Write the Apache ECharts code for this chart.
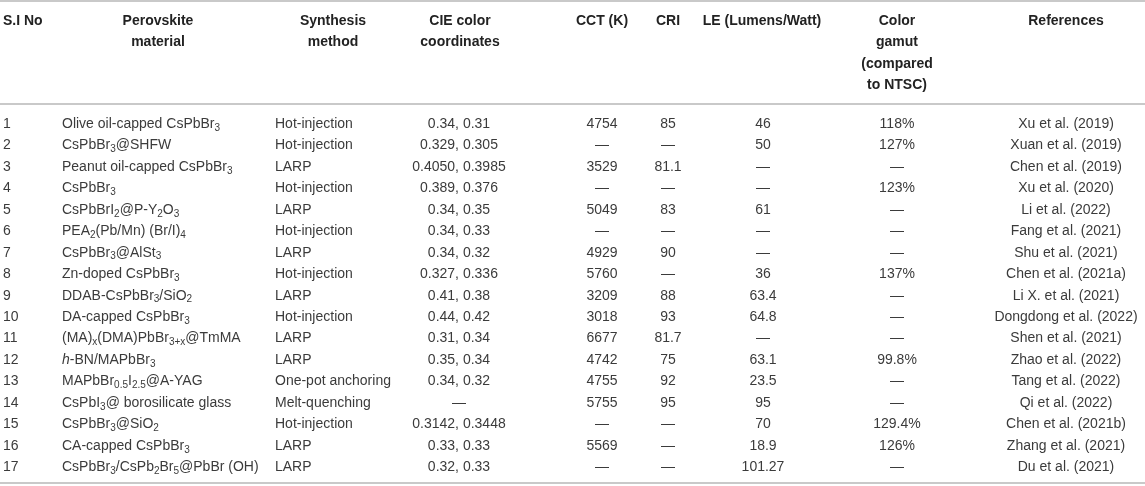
<!DOCTYPE html>
<html style="height: 100%">
<head>
  <meta charset="UTF-8">
  <title>Perovskite WLED table</title>
  <script src="https://cdn.jsdelivr.net/npm/echarts@6/dist/echarts.min.js"></script>
</head>
<body style="height: 100%; margin: 0; background: #fff">
<div id="main" style="width: 100%; height: 100%"></div>

<script>
  // Table content. "_{..}" marks a subscript, "*..*" marks italic.
  const headers = ['S.I No', 'Perovskite\nmaterial', 'Synthesis\nmethod', 'CIE color\ncoordinates',
    'CCT (K)', 'CRI', 'LE (Lumens/Watt)', 'Color\ngamut\n(compared\nto NTSC)', 'References'];

  const serialNos = ['1', '2', '3', '4', '5', '6', '7', '8', '9', '10', '11', '12', '13', '14', '15', '16', '17'];

  const materials = [
    'Olive oil-capped CsPbBr_{3}',
    'CsPbBr_{3}@SHFW',
    'Peanut oil-capped CsPbBr_{3}',
    'CsPbBr_{3}',
    'CsPbBrI_{2}@P-Y_{2}O_{3}',
    'PEA_{2}(Pb/Mn) (Br/I)_{4}',
    'CsPbBr_{3}@AlSt_{3}',
    'Zn-doped CsPbBr_{3}',
    'DDAB-CsPbBr_{3}/SiO_{2}',
    'DA-capped CsPbBr_{3}',
    '(MA)_{x}(DMA)PbBr_{3+x}@TmMA',
    '*h*-BN/MAPbBr_{3}',
    'MAPbBr_{0.5}I_{2.5}@A-YAG',
    'CsPbI_{3}@ borosilicate glass',
    'CsPbBr_{3}@SiO_{2}',
    'CA-capped CsPbBr_{3}',
    'CsPbBr_{3}/CsPb_{2}Br_{5}@PbBr (OH)'
  ];

  const methods = ['Hot-injection', 'Hot-injection', 'LARP', 'Hot-injection', 'LARP', 'Hot-injection', 'LARP',
    'Hot-injection', 'LARP', 'Hot-injection', 'LARP', 'LARP', 'One-pot anchoring', 'Melt-quenching',
    'Hot-injection', 'LARP', 'LARP'];

  const cieCoords = ['0.34, 0.31', '0.329, 0.305', '0.4050, 0.3985', '0.389, 0.376', '0.34, 0.35', '0.34, 0.33',
    '0.34, 0.32', '0.327, 0.336', '0.41, 0.38', '0.44, 0.42', '0.31, 0.34', '0.35, 0.34', '0.34, 0.32', '—',
    '0.3142, 0.3448', '0.33, 0.33', '0.32, 0.33'];

  const cct = ['4754', '—', '3529', '—', '5049', '—', '4929', '5760', '3209', '3018', '6677', '4742', '4755', '5755',
    '—', '5569', '—'];

  const cri = ['85', '—', '81.1', '—', '83', '—', '90', '—', '88', '93', '81.7', '75', '92', '95', '—', '—', '—'];

  const le = ['46', '50', '—', '—', '61', '—', '—', '36', '63.4', '64.8', '—', '63.1', '23.5', '95', '70', '18.9',
    '101.27'];

  const gamut = ['118%', '127%', '—', '123%', '—', '—', '—', '137%', '—', '—', '—', '99.8%', '—', '—', '129.4%',
    '126%', '—'];

  const references = ['Xu et al. (2019)', 'Xuan et al. (2019)', 'Chen et al. (2019)', 'Xu et al. (2020)',
    'Li et al. (2022)', 'Fang et al. (2021)', 'Shu et al. (2021)', 'Chen et al. (2021a)', 'Li X. et al. (2021)',
    'Dongdong et al. (2022)', 'Shen et al. (2021)', 'Zhao et al. (2022)', 'Tang et al. (2022)', 'Qi et al. (2022)',
    'Chen et al. (2021b)', 'Zhang et al. (2021)', 'Du et al. (2021)'];

  // column layout: anchor on the x axis (1 unit = 1 px), header anchor, alignment of the body text
  const columns = [
    { values: serialNos,  x: 3,    align: 'left',   headX: 3,    headAlign: 'left' },
    { values: materials,  x: 62,   align: 'left',   headX: 158,  headAlign: 'center' },
    { values: methods,    x: 275,  align: 'left',   headX: 333,  headAlign: 'center' },
    { values: cieCoords,  x: 459,  align: 'center', headX: 460,  headAlign: 'center' },
    { values: cct,        x: 602,  align: 'center', headX: 602,  headAlign: 'center' },
    { values: cri,        x: 668,  align: 'center', headX: 668,  headAlign: 'center' },
    { values: le,         x: 763,  align: 'center', headX: 762,  headAlign: 'center' },
    { values: gamut,      x: 897,  align: 'center', headX: 897,  headAlign: 'center' },
    { values: references, x: 1066, align: 'center', headX: 1066, headAlign: 'center' }
  ];

  const FONT = '"Liberation Sans", Arial, Helvetica, sans-serif';
  const BODY_COLOR = '#3b3b3b';
  const HEAD_COLOR = '#222';
  const RULE = { show: true, onZero: false, lineStyle: { color: '#c9c9c9', width: 2 } };

  const rich = {
    n: { fontFamily: FONT, fontSize: 14, lineHeight: 18, fill: BODY_COLOR, color: BODY_COLOR },
    i: { fontFamily: FONT, fontSize: 14, lineHeight: 18, fontStyle: 'italic', fill: BODY_COLOR, color: BODY_COLOR },
    s: { fontFamily: FONT, fontSize: 10, lineHeight: 8, verticalAlign: 'bottom', fill: BODY_COLOR, color: BODY_COLOR }
  };

  function toRich(str) {
    const re = /_\{([^}]*)\}|\*([^*]*)\*/g;
    let out = '', last = 0, m;
    while ((m = re.exec(str))) {
      if (m.index > last) out += '{n|' + str.slice(last, m.index) + '}';
      out += m[1] !== undefined ? '{s|' + m[1] + '}' : '{i|' + m[2] + '}';
      last = re.lastIndex;
    }
    if (last < str.length) out += '{n|' + str.slice(last) + '}';
    return out;
  }

  function hiddenAxis(extra) {
    return Object.assign({
      type: 'value', min: 0, max: 1145,
      axisTick: { show: false }, axisLabel: { show: false }, splitLine: { show: false }
    }, extra);
  }

  const bodySeries = columns.map(col => {
    const texts = col.values.map(toRich);
    return {
      type: 'custom',
      xAxisIndex: 1,
      yAxisIndex: 1,
      silent: true,
      data: col.values.map((v, i) => [col.x, i]),
      renderItem: function (params, api) {
        const p = api.coord([api.value(0), api.value(1)]);
        return {
          type: 'text',
          x: p[0],
          y: p[1],
          style: {
            text: texts[params.dataIndex],
            rich: rich,
            align: col.align,
            verticalAlign: 'middle'
          }
        };
      }
    };
  });

  const headerSeries = {
    type: 'custom',
    xAxisIndex: 0,
    yAxisIndex: 0,
    silent: true,
    data: columns.map(col => [col.headX, 0]),
    renderItem: function (params, api) {
      const col = columns[params.dataIndex];
      const p = api.coord([api.value(0), api.value(1)]);
      const band = api.size([0, 1])[1];
      return {
        type: 'text',
        x: p[0],
        y: p[1] - band / 2 + 9,
        style: {
          text: headers[params.dataIndex],
          fontFamily: FONT,
          fontSize: 14,
          fontWeight: 'bold',
          lineHeight: 21.5,
          fill: HEAD_COLOR,
          align: col.headAlign,
          verticalAlign: 'top'
        }
      };
    }
  };

  const option = {
    animation: false,
    grid: [
      { left: 0, right: 0, top: 1, height: 103 },
      { left: 0, right: 0, top: 113.3, height: 364.7 }
    ],
    xAxis: [
      hiddenAxis({ gridIndex: 0, position: 'top', axisLine: RULE }),
      hiddenAxis({ gridIndex: 1, position: 'top', offset: 9.3, axisLine: RULE }),
      hiddenAxis({ gridIndex: 1, position: 'bottom', offset: 5, axisLine: RULE })
    ],
    yAxis: [
      { gridIndex: 0, type: 'category', data: ['header'], show: false },
      { gridIndex: 1, type: 'category', data: serialNos, inverse: true, show: false }
    ],
    series: [headerSeries].concat(bodySeries)
  };

  const chart = echarts.init(document.getElementById('main'));
  chart.setOption(option);
</script>
</body>
</html>
